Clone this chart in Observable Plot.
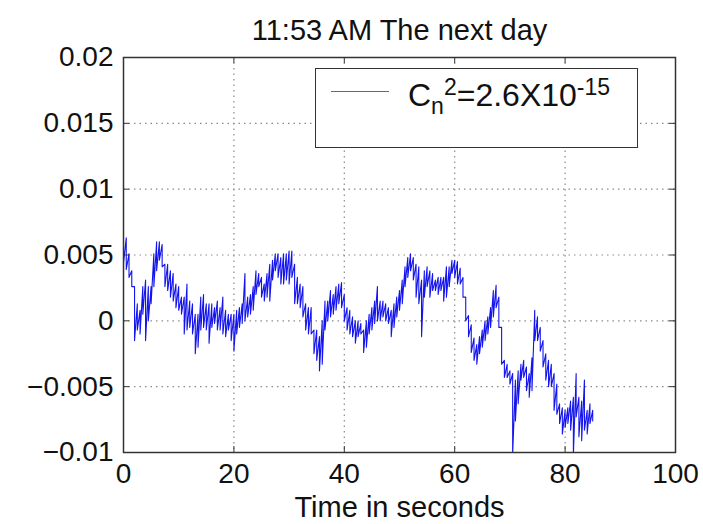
<!DOCTYPE html>
<html>
<head>
<meta charset="utf-8">
<script src="https://cdn.jsdelivr.net/npm/d3@7"></script>
<script src="https://cdn.jsdelivr.net/npm/@observablehq/plot@0.6"></script>
<style>
  html, body { margin: 0; padding: 0; background: #fff; }
  #wrap { position: relative; width: 703px; height: 524px; font-family: "Liberation Sans", Arial, Helvetica, sans-serif; }
  #legend { position: absolute; left: 315px; top: 68px; width: 321px; height: 78px; border: 1.5px solid #333; background: #fff; box-sizing: content-box; }
  #legend .swatch { position: absolute; left: 15px; top: 22px; width: 58px; height: 0; border-top: 1.5px solid #5a5ae0; }
  #legend .lbl { position: absolute; left: 92px; top: 10px; font-size: 32px; color: #111; white-space: nowrap; line-height: 1; }
  #legend sub { font-size: 23px; vertical-align: -8px; line-height: 0; }
  #legend sup { font-size: 23px; vertical-align: 11px; line-height: 0; }
</style>
</head>
<body>
<div id="wrap"></div>
<script>
const title = "11:53 AM The next day";
const xLabel = "Time in seconds";
const legendLabel = "C<sub>n</sub><sup>2</sup>=2.6X10<sup>-15</sup>";

const xTicks = [0, 20, 40, 60, 80, 100];
const xTickLabels = ["0", "20", "40", "60", "80", "100"];
const yTicks = [-0.01, -0.005, 0, 0.005, 0.01, 0.015, 0.02];
const yTickLabels = ["\u22120.01", "\u22120.005", "0", "0.005", "0.01", "0.015", "0.02"];

const time = [
  0, 0.5, 1, 1.5, 2, 2.5, 3, 3.5, 4, 4.5, 5, 5.5, 6, 6.5, 7, 7.5, 8, 8.5, 9, 9.5,
  10, 10.5, 11, 11.5, 12, 12.5, 13, 13.5, 14, 14.5, 15, 15.5, 16, 16.5, 17, 17.5, 18, 18.5, 19, 19.5,
  20, 20.5, 21, 21.5, 22, 22.5, 23, 23.5, 24, 24.5, 25, 25.5, 26, 26.5, 27, 27.5, 28, 28.5, 29, 29.5,
  30, 30.5, 31, 31.5, 32, 32.5, 33, 33.5, 34, 34.5, 35, 35.5, 36, 36.5, 37, 37.5, 38, 38.5, 39, 39.5,
  40, 40.5, 41, 41.5, 42, 42.5, 43, 43.5, 44, 44.5, 45, 45.5, 46, 46.5, 47, 47.5, 48, 48.5, 49, 49.5,
  50, 50.5, 51, 51.5, 52, 52.5, 53, 53.5, 54, 54.5, 55, 55.5, 56, 56.5, 57, 57.5, 58, 58.5, 59, 59.5,
  60, 60.5, 61, 61.5, 62, 62.5, 63, 63.5, 64, 64.5, 65, 65.5, 66, 66.5, 67, 67.5, 68, 68.5, 69, 69.5,
  70, 70.5, 71, 71.5, 72, 72.5, 73, 73.5, 74, 74.5, 75, 75.5, 76, 76.5, 77, 77.5, 78, 78.5, 79, 79.5,
  80, 80.5, 81, 81.5, 82, 82.5, 83, 83.5, 84, 84.5, 85
];

const upper = [
  0.0055, 0.0063, 0.0051, 0.0038, 0.0026, 0.0013, 0.0008, 0.0026, 0.0031, 0.0026,
  0.0026, 0.0051, 0.0060, 0.0060, 0.0058, 0.0043, 0.0043, 0.0038, 0.0036, 0.0028,
  0.0026, 0.0018, 0.0018, 0.0028, 0.0015, 0.0013, 0.0005, 0.0005, 0.0018, 0.0020,
  0.0013, 0.0013, 0.0013, 0.0010, 0.0015, 0.0010, 0.0018, 0.0008, 0.0005, 0.0005,
  0.0005, 0.0008, 0.0010, 0.0013, 0.0036, 0.0018, 0.0020, 0.0026, 0.0038, 0.0036,
  0.0033, 0.0028, 0.0036, 0.0043, 0.0046, 0.0051, 0.0051, 0.0048, 0.0051, 0.0051,
  0.0053, 0.0053, 0.0043, 0.0033, 0.0028, 0.0026, 0.0013, 0.0010, 0.0010, -0.0007,
  -0.0007, -0.0012, 0.0000, 0.0015, 0.0015, 0.0023, 0.0020, 0.0026, 0.0028, 0.0029,
  0.0020, 0.0010, 0.0008, 0.0003, 0.0000, 0.0000, -0.0002, -0.0007, 0.0000, 0.0005,
  0.0010, 0.0015, 0.0026, 0.0015, 0.0015, 0.0013, 0.0010, 0.0008, 0.0013, 0.0018,
  0.0023, 0.0031, 0.0041, 0.0048, 0.0051, 0.0048, 0.0043, 0.0041, 0.0031, 0.0038,
  0.0041, 0.0038, 0.0036, 0.0031, 0.0033, 0.0033, 0.0033, 0.0041, 0.0041, 0.0046,
  0.0046, 0.0045, 0.0040, 0.0033, 0.0018, 0.0004, -0.0003, -0.0013, -0.0018, -0.0012,
  -0.0007, 0.0000, 0.0003, 0.0010, 0.0023, 0.0027, 0.0018, -0.0005, -0.0030, -0.0033,
  -0.0038, -0.0040, -0.0045, -0.0038, -0.0033, -0.0030, -0.0035, -0.0040, -0.0028, 0.0008,
  0.0003, -0.0005, -0.0015, -0.0025, -0.0030, -0.0033, -0.0040, -0.0048, -0.0063, -0.0066,
  -0.0068, -0.0066, -0.0061, -0.0058, -0.0040, -0.0058, -0.0061, -0.0045, -0.0068, -0.0063,
  -0.0068
];

const lower = [
  0.0044, 0.0039, 0.0033, 0.0026, -0.0015, -0.0007, -0.0010, 0.0005, -0.0015, 0.0000,
  0.0013, 0.0026, 0.0038, 0.0046, 0.0041, 0.0026, 0.0023, 0.0018, 0.0015, 0.0010,
  0.0008, 0.0005, -0.0010, -0.0007, -0.0005, -0.0010, -0.0025, -0.0020, -0.0007, -0.0005,
  -0.0007, -0.0017, -0.0005, -0.0002, -0.0007, -0.0007, -0.0010, -0.0012, -0.0007, -0.0015,
  -0.0023, -0.0010, -0.0005, -0.0002, 0.0000, 0.0003, 0.0005, 0.0008, 0.0020, 0.0026,
  0.0018, 0.0015, 0.0018, 0.0015, 0.0031, 0.0038, 0.0033, 0.0028, 0.0028, 0.0031,
  0.0028, 0.0033, 0.0013, 0.0013, 0.0010, 0.0003, -0.0007, -0.0010, -0.0010, -0.0025,
  -0.0030, -0.0038, -0.0033, -0.0007, 0.0000, 0.0003, 0.0005, 0.0008, 0.0013, 0.0010,
  0.0000, -0.0007, -0.0010, -0.0012, -0.0017, -0.0012, -0.0010, -0.0024, -0.0020, -0.0010,
  -0.0007, -0.0002, 0.0000, 0.0000, 0.0003, 0.0000, -0.0002, -0.0012, -0.0005, 0.0003,
  0.0008, 0.0013, 0.0026, 0.0033, 0.0038, 0.0031, 0.0018, 0.0013, -0.0012, 0.0018,
  0.0026, 0.0018, 0.0023, 0.0023, 0.0020, 0.0023, 0.0015, 0.0018, 0.0026, 0.0036,
  0.0033, 0.0028, 0.0028, 0.0018, 0.0000, -0.0012, -0.0024, -0.0030, -0.0033, -0.0025,
  -0.0020, -0.0015, -0.0010, -0.0005, 0.0003, 0.0010, -0.0005, -0.0033, -0.0043, -0.0043,
  -0.0048, -0.0102, -0.0076, -0.0063, -0.0045, -0.0043, -0.0053, -0.0058, -0.0053, -0.0015,
  -0.0015, -0.0023, -0.0035, -0.0045, -0.0050, -0.0050, -0.0068, -0.0071, -0.0078, -0.0086,
  -0.0081, -0.0078, -0.0083, -0.0102, -0.0073, -0.0088, -0.0091, -0.0083, -0.0086, -0.0078,
  -0.0076
];

// Build the line's point table from the arrays (each sample's high then low reading)
const series = [];
time.forEach((t, i) => {
  series.push({t, v: upper[i]});
  series.push({t, v: lower[i]});
});

const W = 703, H = 524;
const mLeft = 123, mRight = 28, mTop = 57, mBottom = 72;
const frameW = W - mLeft - mRight, frameH = H - mTop - mBottom;
const tickLen = 6;
const axisColor = "#333";
const gridColor = "#8a8a8a";

const chart = Plot.plot({
  width: W,
  height: H,
  marginLeft: mLeft,
  marginRight: mRight,
  marginTop: mTop,
  marginBottom: mBottom,
  style: {
    fontFamily: "'Liberation Sans', Arial, Helvetica, sans-serif",
    fontSize: "28px",
    color: "#111",
    background: "#fff",
    overflow: "visible"
  },
  x: {
    domain: [0, 100],
    ticks: xTicks,
    tickFormat: (d, i) => xTickLabels[i],
    tickSize: 0,
    tickPadding: 11,
    label: null
  },
  y: {
    domain: [-0.01, 0.02],
    ticks: yTicks,
    tickFormat: (d, i) => yTickLabels[i],
    tickSize: 0,
    tickPadding: 10,
    label: null
  },
  marks: [
    Plot.ruleX(xTicks.slice(1, -1), {x: d => d, stroke: gridColor, strokeWidth: 1.2, strokeDasharray: "1.5,4"}),
    Plot.ruleY(yTicks.slice(1, -1), {y: d => d, stroke: gridColor, strokeWidth: 1.2, strokeDasharray: "1.5,4"}),
    Plot.line(series, {x: "t", y: "v", stroke: "#1414ee", strokeWidth: 1.1, clip: true}),
    Plot.tickX(xTicks, {x: d => d, stroke: axisColor, insetTop: frameH - tickLen}),
    Plot.tickX(xTicks, {x: d => d, stroke: axisColor, insetBottom: frameH - tickLen}),
    Plot.tickY(yTicks, {y: d => d, stroke: axisColor, insetRight: frameW - tickLen}),
    Plot.tickY(yTicks, {y: d => d, stroke: axisColor, insetLeft: frameW - tickLen}),
    Plot.frame({stroke: axisColor, strokeWidth: 1.5}),
    Plot.text([title], {frameAnchor: "top", lineAnchor: "middle", dy: -27, fontSize: 29, fill: "#111"}),
    Plot.text([xLabel], {frameAnchor: "bottom", lineAnchor: "middle", dy: 55, fontSize: 29, fill: "#111"})
  ]
});

const wrap = document.getElementById("wrap");
wrap.appendChild(chart);
const legend = document.createElement("div");
legend.id = "legend";
legend.innerHTML = `<div class="swatch"></div><div class="lbl">${legendLabel}</div>`;
wrap.appendChild(legend);
</script>
</body>
</html>
